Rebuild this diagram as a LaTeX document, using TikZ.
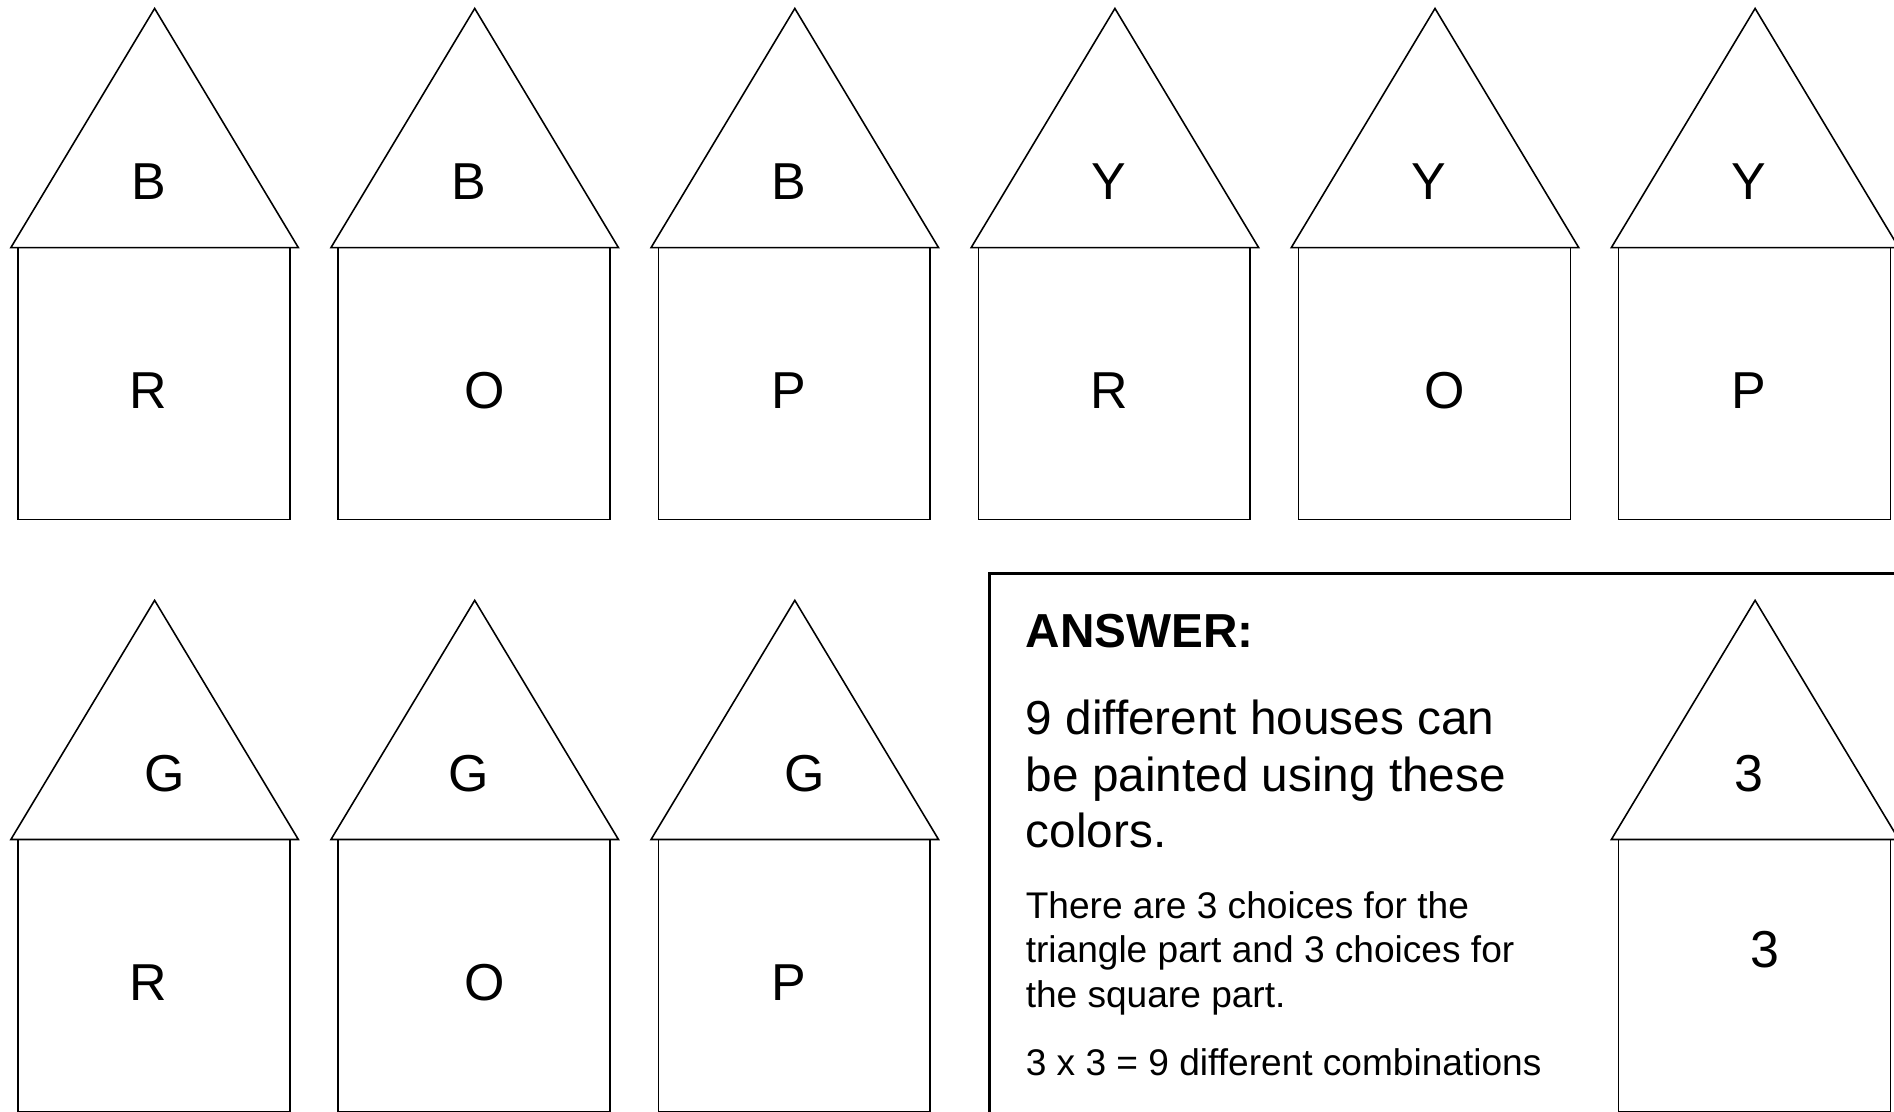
\documentclass[tikz,border=0pt]{standalone}
\usepackage{fontspec}
\setmainfont{Liberation Sans}
\newcommand\drawhouse[2]{%
  \path[wall] (#1-113,#2+198) rectangle (#1+112,#2+423);
  \path[wall] (#1-119,#2+198) -- (#1,#2) -- (#1+119,#2+198) -- cycle;
}
\begin{document}
\begin{tikzpicture}[x=1pt,y=-1pt,
  wall/.style={draw=black,line width=1.3pt,fill=white,line join=miter},
  letter/.style={anchor=base,inner sep=0pt,font=\fontsize{43}{43}\selectfont},
  bigtext/.style={anchor=base west,inner sep=0pt,font=\fontsize{39.5}{47}\selectfont},
  smalltext/.style={anchor=base west,inner sep=0pt,font=\fontsize{30.7}{37}\selectfont},
  answerbox/.style={draw=black,line width=2.6pt}]
\useasboundingbox (0,0) rectangle (1568,920);
\clip (0,0) rectangle (1568,920);
\fill[white] (0,0) rectangle (1568,920);
% row 1
\drawhouse{128}{7}
\drawhouse{393}{7}
\drawhouse{658}{7}
\drawhouse{923}{7}
\drawhouse{1188}{7}
\drawhouse{1453}{7}
\node[letter] (t1) at (123,165) {B};
\node[letter] (b1) at (123,338) {R};
\node[letter] (t2) at (388,165) {B};
\node[letter] (b2) at (401,338) {O};
\node[letter] (t3) at (653,165) {B};
\node[letter] (b3) at (653,338) {P};
\node[letter] (t4) at (918,165) {Y};
\node[letter] (b4) at (918,338) {R};
\node[letter] (t5) at (1183,165) {Y};
\node[letter] (b5) at (1196,338) {O};
\node[letter] (t6) at (1448,165) {Y};
\node[letter] (b6) at (1448,338) {P};
% row 2
\drawhouse{128}{497}
\drawhouse{393}{497}
\drawhouse{658}{497}
\node[letter] (t7) at (136,655) {G};
\node[letter] (b7) at (123,828) {R};
\node[letter] (t8) at (388,655) {G};
\node[letter] (b8) at (401,828) {O};
\node[letter] (t9) at (666,655) {G};
\node[letter] (b9) at (653,828) {P};
% answer box
\draw[answerbox] (819,475) rectangle (1600,960);
\drawhouse{1453}{497}
\node[letter] (ta) at (1448,655) {3};
\node[letter] (ba) at (1461,801) {3};
\node[bigtext,font=\fontsize{39.5}{47}\selectfont\bfseries] (ans) at (849,536) {ANSWER:};
\node[bigtext] (l1) at (849,608) {9 different houses can};
\node[bigtext] (l2) at (849,655) {be painted using these};
\node[bigtext] (l3) at (849,702) {colors.};
\node[smalltext] (s1) at (849,760) {There are 3 choices for the};
\node[smalltext] (s2) at (849,797) {triangle part and 3 choices for};
\node[smalltext] (s3) at (849,834) {the square part.};
\node[smalltext] (s4) at (849,890) {3 x 3 = 9 different combinations};
\end{tikzpicture}
\end{document}
